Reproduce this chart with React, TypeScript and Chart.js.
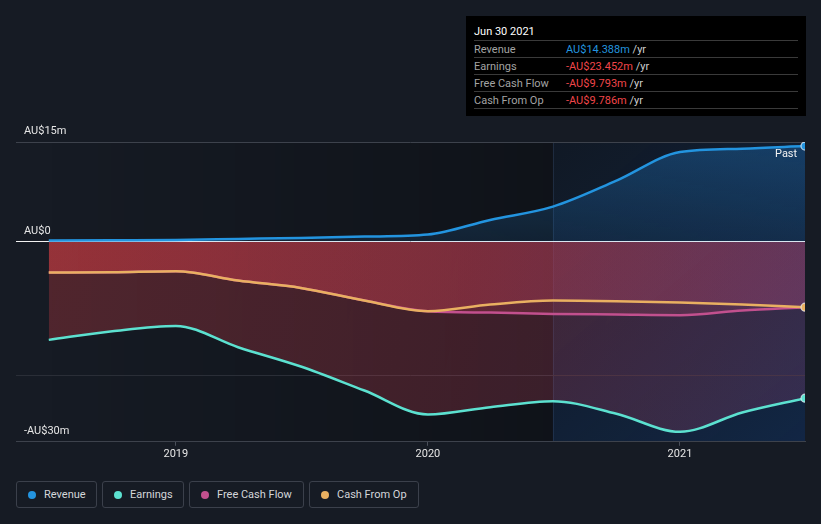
import React, { useEffect, useRef } from 'react';
import { Chart, registerables } from 'chart.js';

Chart.register(...registerables);

// Period ends as decimal years (Jun 30 2018 ... Jun 30 2021, quarterly)
const periods = [2018.496, 2018.748, 2019.0, 2019.247, 2019.496, 2019.748, 2020.0, 2020.247, 2020.496, 2020.748, 2021.0, 2021.247, 2021.496];
// Values in AU$ millions
const revenue = [0.2, 0.25, 0.3, 0.45, 0.6, 0.8, 1.1, 3.3, 5.3, 9.2, 13.5, 14.0, 14.388];
const earnings = [-14.7, -13.4, -12.6, -15.8, -18.7, -22.3, -25.9, -24.8, -23.9, -25.8, -28.5, -25.6, -23.452];
const cashFromOp = [-4.6, -4.55, -4.4, -5.8, -6.9, -8.8, -10.4, -9.4, -8.8, -8.9, -9.1, -9.4, -9.786];
const freeCashFlow = [-4.6, -4.55, -4.4, -5.8, -6.9, -8.8, -10.4, -10.6, -10.8, -10.9, -11.0, -10.3, -9.793];

const yearTicks = [2019, 2020, 2021];
const yGridValues = [-30, -20, 0, 15];
const yLabelValues = [15, 0, -30];
const yLabelTexts = ['AU$15m', 'AU$0', '-AU$30m'];
const X_MIN = 2018.366;
const X_MAX = 2021.496;
const Y_MIN = -30;
const Y_MAX = 15;
const PAST_START = 2020.496;

const BG = '#161b24';
const C_REV = '#2394df';
const C_EARN = '#5ce1d0';
const C_FCF = '#c2508e';
const C_CFO = '#e9b061';

const legendItems = [
  { name: 'Revenue', color: C_REV, width: 81 },
  { name: 'Earnings', color: C_EARN, width: 82 },
  { name: 'Free Cash Flow', color: C_FCF, width: 115 },
  { name: 'Cash From Op', color: C_CFO, width: 110 },
];

const tooltipRows = [
  { name: 'Revenue', value: 'AU$14.388m', color: '#2394df' },
  { name: 'Earnings', value: '-AU$23.452m', color: '#f0464a' },
  { name: 'Free Cash Flow', value: '-AU$9.793m', color: '#f0464a' },
  { name: 'Cash From Op', value: '-AU$9.786m', color: '#f0464a' },
];

const toPoints = (vals: number[]) => vals.map((v, i) => ({ x: periods[i], y: v }));
const lastIdx = periods.length - 1;

const negFill = (c: any) => {
  const chart = c.chart;
  const area = chart.chartArea;
  if (!area) return 'rgba(210,70,75,0.27)';
  const y0 = chart.scales.y.getPixelForValue(0);
  const g = chart.ctx.createLinearGradient(area.left, y0, area.right, area.bottom);
  g.addColorStop(0, 'rgba(215,62,66,0.31)');
  g.addColorStop(0.55, 'rgba(190,62,82,0.27)');
  g.addColorStop(1, 'rgba(150,72,122,0.26)');
  return g;
};

const posFill = (c: any) => {
  const chart = c.chart;
  const area = chart.chartArea;
  if (!area) return 'rgba(35,140,230,0.2)';
  const yTop = chart.scales.y.getPixelForValue(Y_MAX);
  const y0 = chart.scales.y.getPixelForValue(0);
  const g = chart.ctx.createLinearGradient(0, yTop, 0, y0);
  g.addColorStop(0, 'rgba(35,140,230,0.30)');
  g.addColorStop(1, 'rgba(35,140,230,0.12)');
  return g;
};

const lastPointRadius = (c: any) => (c.dataIndex === lastIdx ? 4 : 0);

const backgroundPlugin = {
  id: 'bgRegions',
  beforeDraw(chart: any) {
    const { ctx, chartArea: a, scales } = chart;
    const x = scales.x;
    const xs = x.getPixelForValue(periods[0]);
    const xp = x.getPixelForValue(PAST_START);
    ctx.save();
    const g = ctx.createLinearGradient(xs, 0, xp, 0);
    g.addColorStop(0, 'rgba(0,0,0,0)');
    g.addColorStop(1, 'rgba(0,0,0,0.3)');
    ctx.fillStyle = g;
    ctx.fillRect(xs, a.top, xp - xs, a.bottom - a.top);
    ctx.fillStyle = 'rgba(0,0,0,0.3)';
    ctx.fillRect(xp, a.top, a.right - xp, a.bottom - a.top);
    const h = ctx.createLinearGradient(xp, a.top, a.right, a.bottom);
    h.addColorStop(0, 'rgba(25,70,130,0.12)');
    h.addColorStop(1, 'rgba(25,80,160,0.32)');
    ctx.fillStyle = h;
    ctx.fillRect(xp, a.top, a.right - xp, a.bottom - a.top);
    ctx.strokeStyle = 'rgba(70,100,140,0.25)';
    ctx.lineWidth = 1;
    ctx.beginPath();
    ctx.moveTo(Math.round(xp) + 0.5, a.top);
    ctx.lineTo(Math.round(xp) + 0.5, a.bottom);
    ctx.stroke();
    ctx.restore();
  },
};

const yLabelPlugin = {
  id: 'yLabels',
  afterDatasetsDraw(chart: any) {
    const { ctx, chartArea, scales } = chart;
    ctx.save();
    ctx.font = '11px Roboto';
    ctx.fillStyle = '#e6e6e6';
    ctx.textAlign = 'left';
    ctx.textBaseline = 'alphabetic';
    yLabelValues.forEach((v, i) => {
      ctx.fillText(yLabelTexts[i], chartArea.left + 8, scales.y.getPixelForValue(v) - 8);
    });
    ctx.restore();
  },
};

export default function App() {
  const ref = useRef<HTMLCanvasElement>(null);

  useEffect(() => {
    if (!ref.current) return;
    Chart.defaults.font.family = 'Roboto';
    const line = (label: string, data: number[], color: string, fill: any, points: boolean) => ({
      label,
      data: toPoints(data),
      borderColor: color,
      borderWidth: 2.5,
      backgroundColor: fill,
      fill: 'origin',
      cubicInterpolationMode: 'monotone' as const,
      pointRadius: points ? lastPointRadius : 0,
      pointHoverRadius: 0,
      pointBackgroundColor: color,
      pointBorderColor: 'rgba(235,240,245,0.75)',
      pointBorderWidth: 1.2,
    });
    const chart = new Chart(ref.current, {
      type: 'line',
      data: {
        datasets: [
          line('Revenue', revenue, C_REV, posFill, true),
          line('Earnings', earnings, C_EARN, negFill, true),
          line('Cash From Op', cashFromOp, C_CFO, negFill, true),
          line('Free Cash Flow', freeCashFlow, C_FCF, negFill, false),
        ] as any,
      },
      options: {
        animation: false,
        responsive: false,
        layout: { padding: { left: 16, right: 16, top: 142, bottom: 7 } },
        plugins: {
          legend: { display: false },
          tooltip: { enabled: false },
          filler: { drawTime: 'beforeDatasetsDraw' },
        } as any,
        scales: {
          x: {
            type: 'linear',
            min: X_MIN,
            max: X_MAX,
            afterBuildTicks: (s: any) => {
              s.ticks = yearTicks.map((v) => ({ value: v }));
            },
            ticks: {
              color: '#e6e6e6',
              font: { size: 11 },
              padding: 2,
              callback: (v: any) => String(v),
            },
            grid: { drawOnChartArea: false, drawTicks: true, tickLength: 4, color: '#4a4f5a' },
            border: { display: true, color: '#3d424c' },
          },
          y: {
            type: 'linear',
            min: Y_MIN,
            max: Y_MAX,
            afterBuildTicks: (s: any) => {
              s.ticks = yGridValues.map((v) => ({ value: v }));
            },
            ticks: { display: false },
            grid: {
              drawTicks: false,
              lineWidth: 1,
              color: (c: any) => {
                const v = c.tick && c.tick.value;
                if (v === 0) return '#f2f2f2';
                if (v === -20) return '#2a2e37';
                return '#3d424c';
              },
            },
            border: { display: false },
          },
        },
      },
      plugins: [backgroundPlugin, yLabelPlugin],
    });
    return () => chart.destroy();
  }, []);

  return (
    <div
      style={{
        position: 'fixed',
        left: 0,
        top: 0,
        width: 821,
        height: 524,
        background: BG,
        overflow: 'hidden',
        fontFamily: 'Roboto, sans-serif',
      }}
    >
      <canvas ref={ref} width={821} height={470} style={{ position: 'absolute', left: 0, top: 0 }} />

      <div style={{ position: 'absolute', left: 775, top: 147, fontSize: 11, color: '#f2f2f2', lineHeight: '14px' }}>
        Past
      </div>

      <div
        style={{
          position: 'absolute',
          left: 466,
          top: 16,
          width: 340,
          height: 100,
          background: '#000',
          boxSizing: 'border-box',
        }}
      >
        <div style={{ position: 'absolute', left: 8, top: 7, height: 17, lineHeight: '17px', fontSize: 11, color: '#ffffff' }}>
          Jun 30 2021
        </div>
        <div style={{ position: 'absolute', left: 8, top: 24, width: 324, borderTop: '1px solid #3a3a3a' }}>
          {tooltipRows.map((r) => (
            <div
              key={r.name}
              style={{
                display: 'flex',
                alignItems: 'center',
                height: 16,
                borderBottom: '1px solid #3a3a3a',
                fontSize: 11,
              }}
            >
              <span style={{ width: 92, color: '#a3a3a3' }}>{r.name}</span>
              <span style={{ color: r.color }}>{r.value}</span>
              <span style={{ color: '#cfcfcf' }}>&nbsp;/yr</span>
            </div>
          ))}
        </div>
      </div>

      <div style={{ position: 'absolute', left: 16, top: 481, display: 'flex', gap: 5 }}>
        {legendItems.map((it) => (
          <div
            key={it.name}
            style={{
              display: 'flex',
              alignItems: 'center',
              width: it.width,
              height: 27,
              boxSizing: 'border-box',
              border: '1px solid #3b404b',
              borderRadius: 3,
              paddingLeft: 11,
              fontSize: 11,
              color: '#d4d6da',
              whiteSpace: 'nowrap',
            }}
          >
            <span
              style={{
                width: 8,
                height: 8,
                borderRadius: '50%',
                background: it.color,
                marginRight: 8,
                display: 'inline-block',
                flexShrink: 0,
              }}
            />
            <span>{it.name}</span>
          </div>
        ))}
      </div>
    </div>
  );
}
